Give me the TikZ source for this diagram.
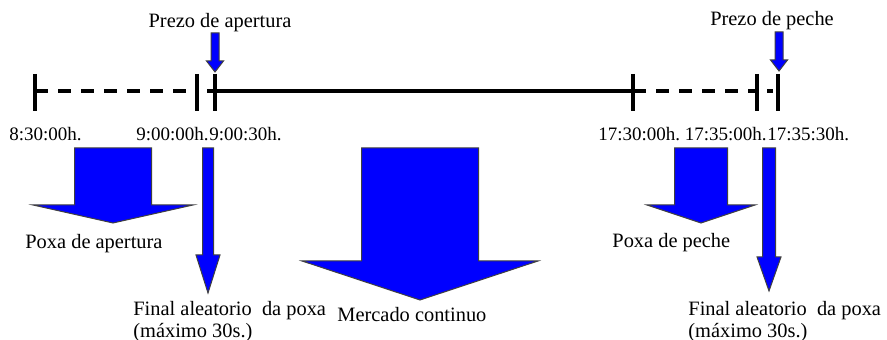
\documentclass[tikz,border=0pt]{standalone}
\usepackage{fontspec}
\setmainfont{Liberation Serif}

% block arrow pointing down: x, top, half shaft, half head, neck y, tip y
\newcommand{\blkarrow}[6]{%
    \filldraw[bluearrow] (#1-#3,#2) -- (#1+#3,#2) -- (#1+#3,#5) -- (#1+#4,#5)
        -- (#1,#6) -- (#1-#4,#5) -- (#1-#3,#5) -- cycle;}

\begin{document}
\begin{tikzpicture}[x=0.5pt, y=-0.5pt,
    every node/.style={inner sep=0pt, font=\rmfamily\fontsize{10.2}{11}\selectfont},
    timelabel/.style={anchor=base west, font=\rmfamily\fontsize{9.5}{11}\selectfont},
    timeline/.style={line width=2pt},
    tick/.style={line width=2.4pt},
    bluearrow/.style={fill=blue, draw=black!75, line width=0.5pt}]

    \useasboundingbox (0,0) rectangle (887,340);

    % Instants on the time line
    \coordinate (t1) at (35,91);
    \coordinate (t2) at (197,91);
    \coordinate (t3) at (215,91);
    \coordinate (t4) at (633,91);
    \coordinate (t5) at (757,91);
    \coordinate (t6) at (778,91);

    % Draw the time line, dashed outside the continuous market
    \draw[timeline, dash pattern=on 6.5pt off 5pt] (t1) -- (t2);
    \draw[timeline, dash pattern=on 3pt off 6pt, dash phase=4pt] (t2) -- (t3);
    \draw[timeline] (t3) -- (t4);
    \draw[timeline, dash pattern=on 6.5pt off 5pt] (t4) -- (t5);
    \draw[timeline, dash pattern=on 3pt off 6pt, dash phase=4pt] (t5) -- (t6);

    % Draw the ticks
    \foreach \t in {t1,t2,t3,t4,t5,t6}
        \draw[tick] (\t) ++(0,-17) -- ++(0,37);

    % Label the instants
    \node[timelabel] (h830) at (9,141) {8:30:00h.};
    \node[timelabel, anchor=base east] (h900) at (209,141) {9:00:00h.};
    \node[timelabel] (h90030) at (209,141) {9:00:30h.};
    \node[timelabel] (h1730) at (598,141) {17:30:00h.};
    \node[timelabel, anchor=base east] (h1735) at (767,141) {17:35:00h.};
    \node[timelabel] (h173530) at (767,141) {17:35:30h.};

    % Prices, with their small arrows
    \node[anchor=base] (pap) at (220,28) {Prezo de apertura};
    \blkarrow{215}{33}{4}{8.5}{61}{72}
    \node[anchor=base] (ppe) at (772,26) {Prezo de peche};
    \blkarrow{779}{32}{4}{8.5}{60}{71}

    % Big arrows for the phases
    \blkarrow{113}{148}{38.5}{80}{205}{223}
    \blkarrow{208}{148}{5.5}{12}{255}{293}
    \blkarrow{420}{148}{58.5}{118}{261}{300}
    \blkarrow{701}{148}{26.5}{54}{205}{223}
    \blkarrow{769}{148}{6.5}{12}{257}{291}

    % Label the phases
    \node[anchor=base west] (poxaap) at (25,249) {Poxa de apertura};
    \node[anchor=north west, align=left] (fin1) at (133,301)
        {Final aleatorio \ da poxa\\(máximo 30s.)};
    \node[anchor=base west] (merc) at (337,322) {Mercado continuo};
    \node[anchor=base west] (poxape) at (612,248) {Poxa de peche};
    \node[anchor=north west, align=left] (fin2) at (688,301)
        {Final aleatorio \ da poxa\\(máximo 30s.)};
\end{tikzpicture}
\end{document}
